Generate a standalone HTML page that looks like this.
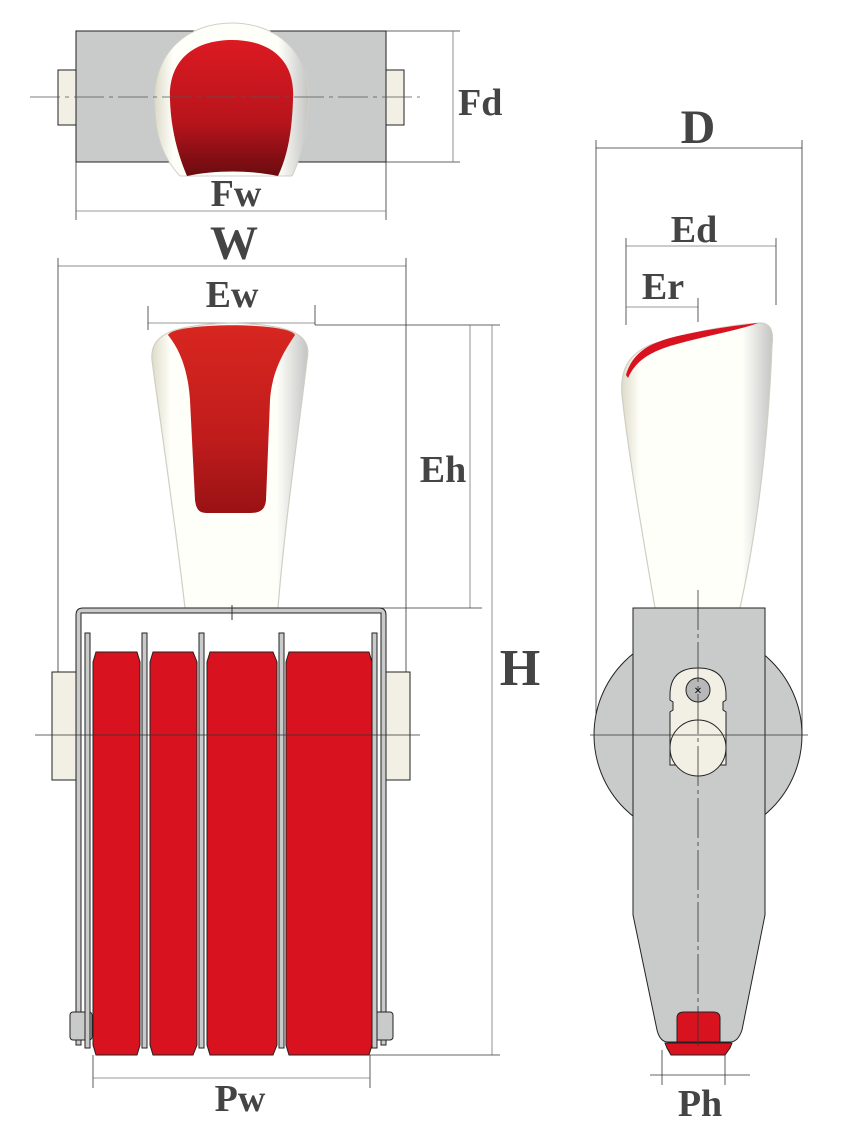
<!DOCTYPE html>
<html><head><meta charset="utf-8"><style>html,body{margin:0;padding:0;background:#fff}svg{display:block}text{font-family:"Liberation Serif",serif;font-weight:bold;fill:#444}</style></head><body>
<svg width="850" height="1130" viewBox="0 0 850 1130" xmlns="http://www.w3.org/2000/svg">
<defs>
<linearGradient id="rg" x1="0" y1="0" x2="0" y2="1"><stop offset="0" stop-color="#dc1a22"/><stop offset="0.6" stop-color="#b8141c"/><stop offset="1" stop-color="#6a0c10"/></linearGradient>
<linearGradient id="rg2" x1="0" y1="0" x2="0" y2="1"><stop offset="0" stop-color="#d82620"/><stop offset="0.6" stop-color="#c01c1c"/><stop offset="1" stop-color="#9a1214"/></linearGradient>
<linearGradient id="wg" x1="0" y1="0" x2="1" y2="0"><stop offset="0" stop-color="#dddbc8"/><stop offset="0.12" stop-color="#fffffa"/><stop offset="0.8" stop-color="#fffffa"/><stop offset="1" stop-color="#c4c4c4"/></linearGradient>
</defs>
<g stroke="#222" stroke-width="1">
<rect x="58" y="70" width="18" height="55" fill="#f2f0e4"/>
<rect x="386" y="70" width="18" height="55" fill="#f2f0e4"/>
<rect x="76" y="31" width="310" height="131" fill="#c9caca"/>
</g>
<path d="M155 110 C150 50 190 23 232 23 C274 23 314 50 308 110 C306 140 300 160 292 176 L180 176 C165 160 156 140 155 110Z" fill="url(#wg)" stroke="#d0d0c8" stroke-width="1"/>
<path d="M170 100 C168 55 200 40 232 40 C264 40 296 55 293 100 C292 130 288 155 278 176 C250 170 215 170 187 176 C178 155 171 130 170 100Z" fill="url(#rg)"/>
<line x1="30" y1="97" x2="420" y2="97" stroke="#555" stroke-width="0.8" stroke-dasharray="30,5,4,5"/>
<g stroke="#333" stroke-width="0.8" fill="none">
<line x1="386" y1="31" x2="460" y2="31"/><line x1="386" y1="162" x2="460" y2="162"/>
<line x1="453" y1="31" x2="453" y2="162" stroke="#777"/>
<line x1="76" y1="162" x2="76" y2="220"/><line x1="386" y1="162" x2="386" y2="220"/>
<line x1="76" y1="211" x2="386" y2="211" stroke="#777"/>
<line x1="58" y1="266" x2="406" y2="266" stroke="#666"/>
<line x1="58" y1="258" x2="58" y2="690"/><line x1="406" y1="258" x2="406" y2="690"/>
<line x1="148" y1="323" x2="315" y2="323" stroke="#777"/>
<line x1="148" y1="306" x2="148" y2="330"/><line x1="315" y1="305" x2="315" y2="325"/>
<line x1="315" y1="325" x2="500" y2="325"/>
<line x1="470" y1="325" x2="470" y2="608" stroke="#777"/>
<line x1="380" y1="608" x2="482" y2="608"/>
<line x1="492" y1="325" x2="492" y2="1055" stroke="#777"/>
<line x1="370" y1="1055" x2="500" y2="1055"/>
<line x1="93" y1="1055" x2="93" y2="1088"/><line x1="370" y1="1055" x2="370" y2="1088"/>
<line x1="93" y1="1078" x2="370" y2="1078" stroke="#777"/>
<line x1="596" y1="148" x2="802" y2="148"/>
<line x1="596" y1="140" x2="596" y2="735"/><line x1="802" y1="140" x2="802" y2="735"/>
<line x1="626" y1="246" x2="776" y2="246" stroke="#777"/>
<line x1="626" y1="238" x2="626" y2="325"/><line x1="776" y1="238" x2="776" y2="305"/>
<line x1="626" y1="307" x2="698" y2="307" stroke="#777"/>
<line x1="698" y1="298" x2="698" y2="322"/>
<line x1="662" y1="1050" x2="662" y2="1085"/><line x1="725" y1="1050" x2="725" y2="1085"/>
<line x1="650" y1="1075" x2="750" y2="1075"/>
</g>
<path d="M185 608 C175 520 160 420 152 360 C150 335 170 325 232 323 C295 325 312 335 307 360 C300 420 285 520 278 608Z" fill="url(#wg)" stroke="#cfcfc4" stroke-width="1.2"/>
<path d="M168 335 C175 322 290 322 295 335 C285 350 272 370 270 400 L266 500 C265 510 260 513 250 513 L207 513 C198 513 196 508 195 500 L190 400 C188 370 180 350 168 335Z" fill="url(#rg2)"/>
<g stroke="#222" stroke-width="1">
<rect x="52" y="672" width="24" height="108" fill="#f2f0e4"/>
<rect x="386" y="672" width="24" height="108" fill="#f2f0e4"/>
<path d="M76 1045 L76 615 Q76 608 83 608 L379 608 Q386 608 386 615 L386 1045 L381 1045 L381 613 L81 613 L81 1045Z" fill="#c9caca"/>
<rect x="70" y="1012" width="22" height="28" rx="3" fill="#c9caca"/>
<rect x="371" y="1012" width="22" height="28" rx="3" fill="#c9caca"/>
<rect x="85" y="633" width="5" height="415" fill="#c9caca"/>
<rect x="142" y="633" width="5" height="415" fill="#c9caca"/>
<rect x="199" y="633" width="5" height="415" fill="#c9caca"/>
<rect x="279" y="633" width="5" height="415" fill="#c9caca"/>
<rect x="372" y="633" width="5" height="415" fill="#c9caca"/>
<g fill="#d8131f">
<path d="M93 662 L96 652 L137 652 L140 662 L140 1045 L137 1055 L96 1055 L93 1045Z"/>
<path d="M150 662 L153 652 L193 652 L197 662 L197 1045 L193 1055 L153 1055 L150 1045Z"/>
<path d="M207 662 L210 652 L273 652 L277 662 L277 1045 L273 1055 L210 1055 L207 1045Z"/>
<path d="M286 662 L289 652 L369 652 L372 662 L372 1045 L369 1055 L289 1055 L286 1045Z"/>
</g>
</g>
<line x1="35" y1="735" x2="420" y2="735" stroke="#333" stroke-width="0.8"/>
<line x1="232" y1="605" x2="232" y2="620" stroke="#333"/>
<path d="M655 608 C640 520 628 450 622 395 C620 370 628 355 650 345 C690 332 730 325 760 323 C770 323 774 330 772 345 C768 450 755 540 740 608Z" fill="url(#wg)" stroke="#cfcfc4" stroke-width="1.2"/>
<path d="M626 375 C632 355 645 345 670 338 C700 330 740 325 758 323 C740 330 700 337 670 346 C648 353 635 362 628 378Z" fill="#d8131f"/>
<g stroke="#222" stroke-width="1">
<circle cx="698" cy="735" r="104" fill="#c9caca"/>
<path d="M633 608 L765 608 L765 915 L742 1030 Q738 1042 730 1042 L668 1042 Q660 1042 657 1030 L633 915Z" fill="#c9caca"/>
<path d="M670 695 Q670 668 698 668 Q726 668 726 695 L726 700 L723 702 L723 710 L726 712 L726 765 L670 765 L670 712 L673 710 L673 702 L670 700Z" fill="#f2f0e4"/>
<circle cx="698" cy="690" r="12" fill="#b8b8b8"/>
<circle cx="698" cy="748" r="28" fill="#f2f0e4"/>
<path d="M677 1042 L677 1018 Q677 1012 684 1012 L713 1012 Q720 1012 720 1018 L720 1042Z" fill="#d8131f"/>
<path d="M665 1043 L732 1043 L730 1048 L725 1055 L671 1055 L667 1048Z" fill="#d8131f"/>
</g>
<text x="698" y="695" font-size="14" text-anchor="middle" style="fill:#111">×</text>
<line x1="698" y1="590" x2="698" y2="1050" stroke="#333" stroke-width="0.8" stroke-dasharray="40,4,4,4"/>
<line x1="590" y1="735" x2="808" y2="735" stroke="#333" stroke-width="0.8"/>
<text x="458" y="115" font-size="38">Fd</text>
<text x="236" y="206" font-size="38" text-anchor="middle">Fw</text>
<text x="234" y="259" font-size="48" text-anchor="middle">W</text>
<text x="232" y="307" font-size="38" text-anchor="middle">Ew</text>
<text x="443" y="482" font-size="38" text-anchor="middle">Eh</text>
<text x="520" y="685" font-size="52" text-anchor="middle">H</text>
<text x="240" y="1111" font-size="38" text-anchor="middle">Pw</text>
<text x="698" y="143" font-size="48" text-anchor="middle">D</text>
<text x="694" y="242" font-size="38" text-anchor="middle">Ed</text>
<text x="663" y="299" font-size="38" text-anchor="middle">Er</text>
<text x="700" y="1116" font-size="38" text-anchor="middle">Ph</text>
</svg>
</body></html>
